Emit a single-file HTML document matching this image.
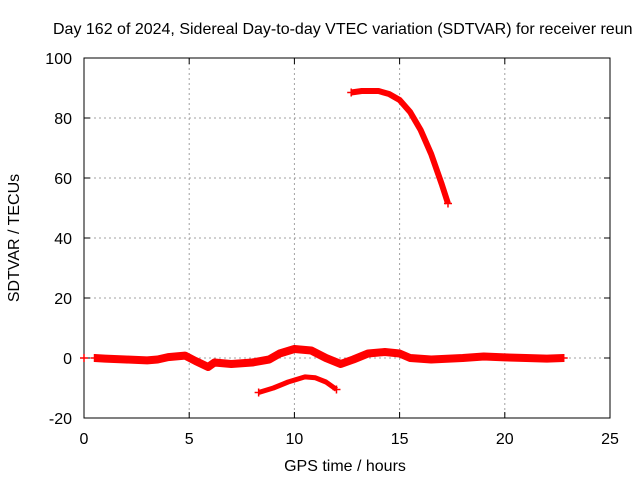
<!DOCTYPE html>
<html><head><meta charset="utf-8"><style>
body{margin:0;background:#fff}
text{font-family:"Liberation Sans",sans-serif;font-size:16px;fill:#000}
</style></head><body>
<svg id="c" width="640" height="480" viewBox="0 0 640 480">
<text x="53" y="34">Day 162 of 2024, Sidereal Day-to-day VTEC variation (SDTVAR) for receiver reun</text>
<g id="grid"></g>
<rect x="84" y="58" width="526" height="360" fill="none" stroke="#000" stroke-width="1"/>
<g id="ticks"></g>
<g id="series"></g>
<text x="345" y="471" text-anchor="middle">GPS time / hours</text>
<text transform="translate(19,238) rotate(-90)" text-anchor="middle">SDTVAR / TECUs</text>
</svg>
<script>
const xTicks=[0,5,10,15,20,25];
const yTicks=[-20,0,20,40,60,80,100];
const mainT=[0.5,1,2,3,3.5,4,4.8,5.3,5.9,6.2,7,8,8.8,9.3,10,10.8,11.5,12.2,12.8,13.5,14.3,15,15.5,16.5,18,19,20,21,22,22.8];
const mainV=[0,-0.2,-0.5,-0.8,-0.5,0.3,0.8,-1,-3,-1.5,-2,-1.5,-0.5,1.5,3,2.5,0,-2,-0.5,1.5,2,1.5,0,-0.5,0,0.5,0.2,0,-0.2,0];
const lowT=[8.3,9,9.7,10.5,11,11.5,12];
const lowV=[-11.5,-10,-8,-6.3,-6.6,-8,-10.5];
const upT=[12.7,13.2,14,14.5,15,15.5,16,16.5,17,17.3];
const upV=[88.5,89,89,88,86,82,76,68,58,51.5];
const X=v=>84+v*526/25, Y=v=>358-v*3;
const NS='http://www.w3.org/2000/svg';
function mk(tag,attrs,parent){const e=document.createElementNS(NS,tag);for(const k in attrs)e.setAttribute(k,attrs[k]);document.getElementById(parent).appendChild(e);return e;}
xTicks.forEach(t=>{
 if(t>0&&t<25){const g=mk('line',{x1:X(t),x2:X(t),y1:58,y2:418,stroke:'#a0a0a0','stroke-dasharray':'2,3'},'grid');
 
 }
 const l=mk('text',{x:X(t),y:444,'text-anchor':'middle'},'ticks');l.textContent=t;
 
 
 mk('line',{x1:X(t),x2:X(t),y1:418,y2:412,stroke:'#000'},'ticks');
 mk('line',{x1:X(t),x2:X(t),y1:58,y2:64,stroke:'#000'},'ticks');
});
yTicks.forEach(t=>{
 if(t>-20&&t<100){const g=mk('line',{x1:84,x2:610,y1:Y(t),y2:Y(t),stroke:'#a0a0a0','stroke-dasharray':'2,3'},'grid');
 
 }
 const l=mk('text',{x:72,y:Y(t)+6,'text-anchor':'end'},'ticks');l.textContent=t;
 
 
 mk('line',{x1:84,x2:90,y1:Y(t),y2:Y(t),stroke:'#000'},'ticks');
 mk('line',{x1:604,x2:610,y1:Y(t),y2:Y(t),stroke:'#000'},'ticks');
});
function band(T,V,w,name){
 const p=mk('polyline',{points:T.map((t,i)=>X(t)+','+Y(V[i])).join(' '),fill:'none',stroke:'#f00','stroke-width':w,'stroke-linejoin':'round','stroke-linecap':'butt'},'series');
 
 
 [0,T.length-1].forEach(i=>{const x=X(T[i]),y=Y(V[i]);
  const m=mk('path',{d:`M${x-4},${y}h8M${x},${y-4}v8`,stroke:'#f00','stroke-width':1.5},'series');
  
  });
}
band(mainT,mainV,8,'main-series-band');
band(lowT,lowV,5,'lower-arc-series');
band(upT,upV,6,'upper-arc-series');
const st=mk('path',{d:`M${X(0)-4},${Y(0)}h8M${X(0)},${Y(0)-4}v8`,stroke:'#f00','stroke-width':1.5},'series');


</script>
</body></html>
